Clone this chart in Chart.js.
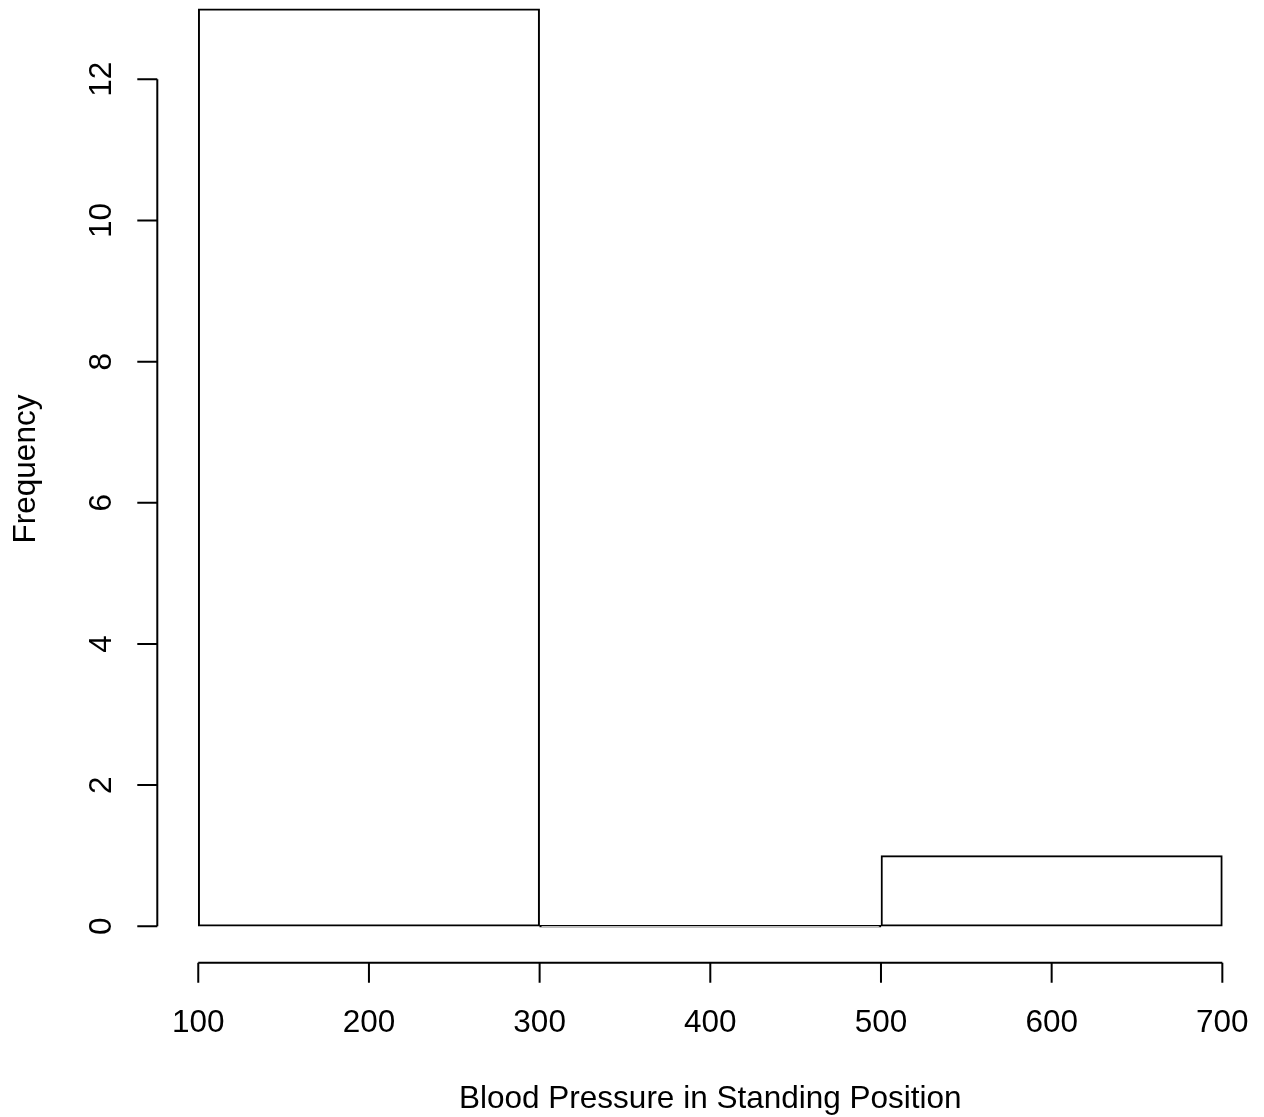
<!DOCTYPE html>
<html>
<head>
<meta charset="utf-8">
<script src="https://cdn.jsdelivr.net/npm/chart.js@4/dist/chart.umd.min.js"></script>
<style>
  html, body { margin: 0; padding: 0; background: #fff; }
  canvas { display: block; }
</style>
</head>
<body>
<canvas id="hist" width="1264" height="1117"></canvas>
<script>
// histogram bins (midpoints) and counts
const binCenters = [200, 400, 600];
const counts = [13, 0, 1];
const xTicks = [100, 200, 300, 400, 500, 600, 700];
const yTicks = [0, 2, 4, 6, 8, 10, 12];
const xTitle = 'Blood Pressure in Standing Position';
const yTitle = 'Frequency';

const FONT = '31.5px "Liberation Sans", Arial, sans-serif';

// R-style axes: lines span only the tick range, x axis sits below the bars
const rAxes = {
    id: 'rAxes',
    afterDraw(chart) {
        const { ctx, chartArea, scales: { x, y } } = chart;
        ctx.save();
        ctx.strokeStyle = '#000';
        ctx.fillStyle = '#000';
        ctx.lineWidth = 2;
        ctx.font = FONT;

        // y axis
        const yl = chartArea.left;
        ctx.beginPath();
        ctx.moveTo(yl, y.getPixelForValue(yTicks[0]));
        ctx.lineTo(yl, y.getPixelForValue(yTicks[yTicks.length - 1]));
        yTicks.forEach(t => {
            const py = y.getPixelForValue(t);
            ctx.moveTo(yl, py);
            ctx.lineTo(yl - 20, py);
        });
        ctx.stroke();
        ctx.textAlign = 'center';
        ctx.textBaseline = 'alphabetic';
        yTicks.forEach(t => {
            ctx.save();
            ctx.translate(111, y.getPixelForValue(t));
            ctx.rotate(-Math.PI / 2);
            ctx.fillText(String(t), 0, 0);
            ctx.restore();
        });

        // x axis
        const xb = chartArea.bottom;
        ctx.beginPath();
        ctx.moveTo(x.getPixelForValue(xTicks[0]), xb);
        ctx.lineTo(x.getPixelForValue(xTicks[xTicks.length - 1]), xb);
        xTicks.forEach(t => {
            const px = x.getPixelForValue(t);
            ctx.moveTo(px, xb);
            ctx.lineTo(px, xb + 20);
        });
        ctx.stroke();
        xTicks.forEach(t => {
            ctx.fillText(String(t), x.getPixelForValue(t), 1032);
        });

        // titles
        ctx.fillText(xTitle, (chartArea.left + chartArea.right) / 2, 1108);
        ctx.save();
        ctx.translate(35, 469);
        ctx.rotate(-Math.PI / 2);
        ctx.fillText(yTitle, 0, 0);
        ctx.restore();

        ctx.restore();
    }
};

new Chart(document.getElementById('hist'), {
    type: 'bar',
    data: {
        datasets: [{
            data: binCenters.map((c, i) => ({ x: c, y: counts[i] })),
            backgroundColor: '#fff',
            borderColor: '#000',
            borderWidth: 2,
            borderSkipped: false,
            minBarLength: 2,
            barPercentage: 1,
            categoryPercentage: 1
        }]
    },
    options: {
        responsive: false,
        animation: false,
        events: [],
        layout: { padding: { left: 157.3, right: 0.7, top: 0, bottom: 154.3 } },
        scales: {
            x: {
                type: 'linear', min: 76, max: 724, offset: false, display: false,
                // only bin centres as ticks, so the bar width equals the bin width
                afterBuildTicks: scale => { scale.ticks = binCenters.map(v => ({ value: v })); }
            },
            y: { type: 'linear', min: -0.516, max: 13.124, display: false }
        },
        plugins: { legend: { display: false }, tooltip: { enabled: false } }
    },
    plugins: [rAxes]
});
</script>
</body>
</html>
